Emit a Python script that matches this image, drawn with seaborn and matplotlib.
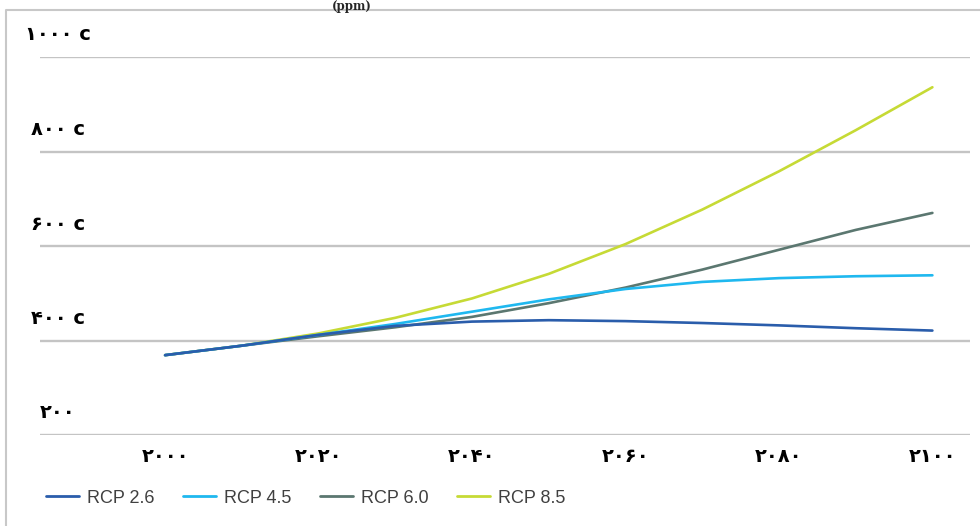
import pandas as pd
import seaborn as sns
import matplotlib.pyplot as plt
from matplotlib.lines import Line2D

# CO2 concentration pathways (ppm)
years = [2000, 2010, 2020, 2030, 2040, 2050, 2060, 2070, 2080, 2090, 2100]
rcp26 = [369, 389, 412, 431, 440, 443, 441, 437, 432, 426, 421]
rcp45 = [369, 389, 412, 435, 461, 487, 509, 524, 532, 536, 538]
rcp60 = [369, 389, 409, 428, 450, 479, 512, 550, 592, 634, 670]
rcp85 = [369, 389, 415, 448, 489, 541, 604, 677, 758, 845, 936]

scenarios = ['RCP 2.6', 'RCP 4.5', 'RCP 6.0', 'RCP 8.5']
colors = ['#2a5dab', '#1fb8ef', '#5b7770', '#c6da35']

y_ticks = [200, 400, 600, 800, 1000]
y_labels = ['۲۰۰', '۴۰۰ c', '۶۰۰ c', '۸۰۰ c', '۱۰۰۰ c']
x_ticks = [2000, 2020, 2040, 2060, 2080, 2100]
x_labels = ['۲۰۰۰', '۲۰۲۰', '۲۰۴۰', '۲۰۶۰', '۲۰۸۰', '۲۱۰۰']

df = pd.DataFrame({
    'year': years * 4,
    'ppm': rcp26 + rcp45 + rcp60 + rcp85,
    'scenario': [s for s in scenarios for _ in years],
})

sns.set_theme(style='white')
plt.rcParams['font.family'] = ['DejaVu Sans']

fig = plt.figure(figsize=(9.8, 5.26), dpi=100)
ax = fig.add_axes([40 / 980, 91 / 526, 930 / 980, 378 / 526])

sns.lineplot(data=df, x='year', y='ppm', hue='scenario', hue_order=scenarios,
             palette=dict(zip(scenarios, colors)), linewidth=1.9, ax=ax, legend=False)
# first scenario drawn on top
for i, line in enumerate(ax.lines):
    line.set_zorder(10 - i)

ax.set_xlim(1983.7, 2104.9)
ax.set_ylim(200, 1000)
ax.set_yticks(y_ticks)
ax.set_yticklabels([])
ax.set_xticks(x_ticks)
ax.set_xticklabels(x_labels, fontsize=14, fontweight='bold', color='black')
ax.tick_params(axis='x', length=0, pad=9)
ax.tick_params(axis='y', length=0)
ax.grid(axis='y', color='#c4c4c4', linewidth=1.7)
ax.grid(axis='x', visible=False)
for s in ax.spines.values():
    s.set_visible(False)
ax.set_xlabel('')
ax.set_ylabel('')

# y labels sit above their gridlines
for v, lab in zip(y_ticks, y_labels):
    ax.annotate(lab, xy=(0, v), xycoords=('axes fraction', 'data'),
                xytext=(18, 22), textcoords='offset pixels',
                ha='center', va='center', fontsize=14, fontweight='bold', color='black')

# legend
handles = [Line2D([], [], color=c, linewidth=2.0) for c in colors]
fig.legend(handles, scenarios, loc='lower left', bbox_to_anchor=(30 / 980, 3 / 526),
           ncol=4, frameon=False, handlelength=1.8, handletextpad=0.45, columnspacing=1.6,
           prop={'family': ['Liberation Sans', 'DejaVu Sans'], 'size': 13},
           labelcolor='#404040')

# title at the top edge and outer frame
fig.text(352 / 980, 1.0, '(ppm)', ha='center', va='top',
         fontsize=8.5, fontweight='bold', family='DejaVu Serif')
fig.add_artist(Line2D([6 / 980, 6 / 980, 1.0], [0.0, 1 - 10 / 526, 1 - 10 / 526],
                      color='#c8c8c8', linewidth=1.5, transform=fig.transFigure))

fig.savefig('out.png', dpi=100)
